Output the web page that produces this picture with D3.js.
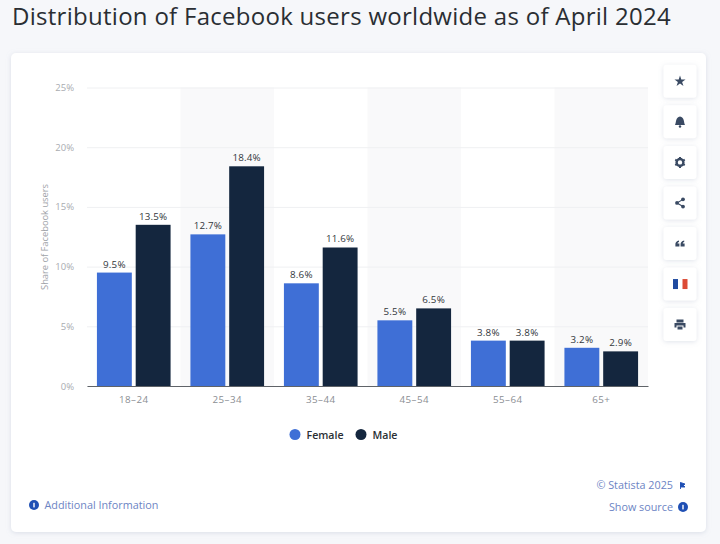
<!DOCTYPE html>
<html>
<head>
<meta charset="utf-8">
<script src="https://cdn.jsdelivr.net/npm/d3@7"></script>
<style>
  html, body { margin: 0; padding: 0; background: #f6f7fa; }
  svg { display: block; }
  text { font-family: "Open Sans", "Noto Sans", sans-serif; }
</style>
</head>
<body>
<svg id="chart" width="720" height="544"></svg>
<script>
var ageGroups = ['18-24', '25-34', '35-44', '45-54', '55-64', '65+'];
var seriesNames = ['Female', 'Male'];
var femaleShare = [9.5, 12.7, 8.6, 5.5, 3.8, 3.2];
var maleShare = [13.5, 18.4, 11.6, 6.5, 3.8, 2.9];
var yTicks = [0, 5, 10, 15, 20, 25];
var seriesColors = ['#3f6fd6', '#14263e'];

var svg = d3.select('#chart');

// drop shadow for the card and the buttons
var defs = svg.append('defs');
var shadow = defs.append('filter').attr('id', 'soft')
  .attr('x', '-20%').attr('y', '-20%').attr('width', '140%').attr('height', '140%');
shadow.append('feDropShadow').attr('dx', 0).attr('dy', 1).attr('stdDeviation', 2.5)
  .attr('flood-color', '#9aa6bc').attr('flood-opacity', 0.3);

svg.append('text')
  .attr('x', 12).attr('y', 25)
  .attr('font-size', 24).attr('fill', '#2a2e33')
  .style('letter-spacing', '0.28px')
  .text('Distribution of Facebook users worldwide as of April 2024');

svg.append('rect')
  .attr('x', 11).attr('y', 53).attr('width', 695).attr('height', 479)
  .attr('rx', 5).attr('fill', '#fff').attr('filter', 'url(#soft)');

var x = d3.scaleBand().domain(ageGroups).range([87, 648]);
var inner = d3.scaleBand().domain(seriesNames).range([0, x.bandwidth()]).paddingInner(0.1).paddingOuter(0.256);
var y = d3.scaleLinear().domain([0, 25]).range([386, 87.5]);

// every second band is shaded
svg.append('g').selectAll('rect')
  .data(ageGroups.filter(function (d, i) { return i % 2 == 1; }))
  .enter().append('rect')
  .attr('x', function (d) { return x(d); })
  .attr('y', y(25))
  .attr('width', x.bandwidth())
  .attr('height', y(0) - y(25))
  .attr('fill', '#f9f9fa');

// y axis, the ticks are stretched to gridlines
var yAxis = svg.append('g')
  .attr('transform', 'translate(87,0)')
  .call(d3.axisLeft(y).tickValues(yTicks).tickSize(-561).tickPadding(13)
    .tickFormat(function (d) { return d + '%'; }));
yAxis.select('.domain').remove();
yAxis.selectAll('line').attr('stroke', '#eff0f2').attr('stroke-width', 1);
yAxis.selectAll('text')
  .attr('font-size', 9.5).attr('fill', '#a9acb1')
  .style('font-family', '"Open Sans", sans-serif');

svg.append('text')
  .attr('transform', 'translate(47.5,237) rotate(-90)')
  .attr('text-anchor', 'middle')
  .attr('font-size', 9.3).attr('fill', '#a0a3a8')
  .text('Share of Facebook users');

var series = [femaleShare, maleShare];
series.forEach(function (values, s) {
  var g = svg.append('g');
  g.selectAll('rect')
    .data(values)
    .enter().append('rect')
    .attr('x', function (d, i) { return x(ageGroups[i]) + inner(seriesNames[s]); })
    .attr('y', function (d) { return y(d); })
    .attr('width', inner.bandwidth())
    .attr('height', function (d) { return y(0) - y(d); })
    .attr('fill', seriesColors[s]);
  g.selectAll('text')
    .data(values)
    .enter().append('text')
    .attr('x', function (d, i) { return x(ageGroups[i]) + inner(seriesNames[s]) + inner.bandwidth() / 2; })
    .attr('y', function (d) { return y(d) - 5; })
    .attr('text-anchor', 'middle')
    .attr('font-size', 9.8).attr('fill', '#33373c')
    .style('letter-spacing', '0.2px')
    .text(function (d) { return d.toFixed(1) + '%'; });
});

// x axis
var xAxis = svg.append('g')
  .attr('transform', 'translate(0,' + y(0) + ')')
  .call(d3.axisBottom(x).tickSize(0).tickPadding(10.5)
    .tickFormat(function (d) { return d.replace('-', '\u2013'); }));
xAxis.select('.domain').attr('stroke', '#5f6368').attr('stroke-width', 1);
xAxis.selectAll('text')
  .attr('font-size', 9.8).attr('fill', '#8b8e93')
  .style('font-family', '"Open Sans", sans-serif')
  .style('letter-spacing', '0.4px');

// legend
var legendX = [295, 361];
seriesNames.forEach(function (name, i) {
  svg.append('circle').attr('cx', legendX[i]).attr('cy', 434.5).attr('r', 5.5).attr('fill', seriesColors[i]);
  svg.append('text')
    .attr('x', legendX[i] + 11.5).attr('y', 438.5)
    .attr('font-size', 10.6).attr('font-weight', 600).attr('fill', '#2b2f35')
    .text(name);
});

// footer links
var linkColor = '#6c84c4';
var infoColor = '#1f4fb4';
function infoDot(cx, cy) {
  svg.append('circle').attr('cx', cx).attr('cy', cy).attr('r', 5).attr('fill', infoColor);
  svg.append('rect').attr('x', cx - 0.7).attr('y', cy - 2.2).attr('width', 1.4).attr('height', 4.6).attr('fill', '#fff');
}
infoDot(34, 505);
svg.append('text').attr('x', 44.5).attr('y', 509)
  .attr('font-size', 10.8).attr('fill', linkColor).text('Additional Information');
svg.append('text').attr('x', 673).attr('y', 489)
  .attr('text-anchor', 'end').attr('font-size', 10.8).attr('fill', linkColor).text('\u00a9 Statista 2025');
svg.append('path').attr('d', 'M680.5,482.5 L680.5,489 M680.5,482.5 L685,484 L683.5,485.5 L685,487 L680.5,487 Z')
  .attr('fill', infoColor).attr('stroke', infoColor).attr('stroke-width', 0.9);
svg.append('text').attr('x', 673).attr('y', 511)
  .attr('text-anchor', 'end').attr('font-size', 10.8).attr('fill', linkColor).text('Show source');
infoDot(683, 507);

// side buttons
var buttonIcons = ['star', 'bell', 'gear', 'share', 'quote', 'flag', 'print'];
var iconColor = '#3a4a63';
var button = svg.append('g').selectAll('g')
  .data(buttonIcons)
  .enter().append('g')
  .attr('transform', function (d, i) { return 'translate(680,' + (81.3 + i * 40.55) + ')'; });
button.append('rect')
  .attr('x', -16.5).attr('y', -16.5).attr('width', 33).attr('height', 33)
  .attr('rx', 3).attr('fill', '#fff').attr('filter', 'url(#soft)');

button.filter(function (d) { return d == 'star'; }).append('path')
  .attr('d', d3.symbol(d3.symbolStar, 38)).attr('fill', iconColor);

var bell = button.filter(function (d) { return d == 'bell'; });
bell.append('path').attr('d', 'M-5,3.2 C-3.8,1 -4.4,-5 0,-5.4 C4.4,-5 3.8,1 5,3.2 Z').attr('fill', iconColor);
bell.append('circle').attr('cy', 4.6).attr('r', 1.2).attr('fill', iconColor);

var gear = button.filter(function (d) { return d == 'gear'; });
gear.append('circle').attr('r', 3.4).attr('fill', 'none').attr('stroke', iconColor).attr('stroke-width', 2.4);
gear.selectAll('line').data(d3.range(6)).enter().append('line')
  .attr('x1', 0).attr('y1', -4).attr('x2', 0).attr('y2', -5.5)
  .attr('stroke', iconColor).attr('stroke-width', 2)
  .attr('transform', function (d) { return 'rotate(' + d * 60 + ')'; });

var share = button.filter(function (d) { return d == 'share'; });
share.append('path').attr('d', 'M3,-3.6 L-3,0 L3,3.6').attr('fill', 'none').attr('stroke', iconColor).attr('stroke-width', 1.1);
share.selectAll('circle').data([[3, -3.6], [-3, 0], [3, 3.6]]).enter().append('circle')
  .attr('cx', function (d) { return d[0]; }).attr('cy', function (d) { return d[1]; })
  .attr('r', 1.9).attr('fill', iconColor);

var quote = button.filter(function (d) { return d == 'quote'; });
quote.selectAll('path').data([-2.6, 2.6]).enter().append('path')
  .attr('transform', function (d) { return 'translate(' + d + ',0)'; })
  .attr('d', 'M-2,3 L-2,0.5 C-2,-1 -1,-2.4 1.6,-3 L1.6,-1.6 C0.6,-1.3 0.2,-0.8 0.2,0 L2,0 L2,3 Z')
  .attr('fill', iconColor);

var flag = button.filter(function (d) { return d == 'flag'; });
flag.append('rect').attr('x', -7).attr('y', -5).attr('width', 5).attr('height', 10).attr('fill', '#1f4aa0');
flag.append('rect').attr('x', 2.5).attr('y', -5).attr('width', 5).attr('height', 10).attr('fill', '#dc4a35');

var print = button.filter(function (d) { return d == 'print'; });
print.append('path').attr('d', 'M-3.5,-5 H3.5 V-2 H-3.5 Z M-5.5,-1.5 H5.5 V3 H3.5 V1 H-3.5 V3 H-5.5 Z M-2.5,2 H2.5 V5 H-2.5 Z')
  .attr('fill', iconColor);
</script>
</body>
</html>
